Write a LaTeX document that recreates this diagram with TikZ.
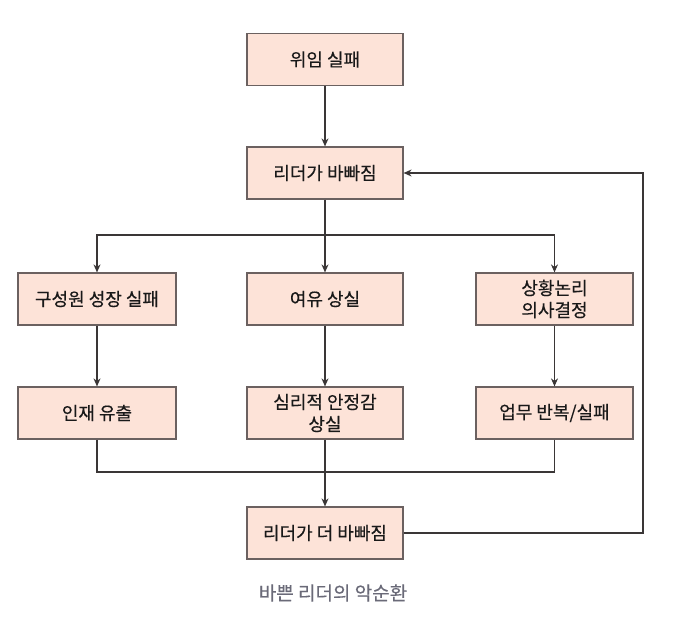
\documentclass[tikz,border=0pt]{standalone}
\usepackage{fontspec}
\setmainfont{Noto Sans CJK KR}[FakeBold=0.4]
\usetikzlibrary{arrows.meta}
\definecolor{boxfill}{HTML}{FDE3D8}
\definecolor{boxline}{HTML}{6B6160}
\definecolor{conn}{HTML}{3A3636}
\definecolor{captc}{HTML}{6A6A78}
\begin{document}
\begin{tikzpicture}[x=1pt,y=-1pt,
  stepbox/.style={draw=boxline, fill=boxfill, line width=1.2pt, minimum width=156pt, minimum height=52pt, inner sep=0pt, align=center, font=\fontsize{18}{22}\selectfont, text=black!90},
  conn/.style={draw=conn, line width=1.1pt},
  arr/.style={conn, -{Stealth[length=8pt,width=7pt]}}]
\useasboundingbox (0,0) rectangle (686,623);
\node[stepbox] (a) at (325,59.5) {위임 실패};
\node[stepbox] (b) at (325,173) {리더가 바빠짐};
\node[stepbox, minimum width=158pt] (c1) at (97,299) {구성원 성장 실패};
\node[stepbox] (c2) at (325,299) {여유 상실};
\node[stepbox, minimum width=157pt] (c3) at (554.5,299) {상황논리\\의사결정};
\node[stepbox, minimum width=158pt] (d1) at (97,413) {인재 유출};
\node[stepbox] (d2) at (325,413) {심리적 안정감\\상실};
\node[stepbox, minimum width=157pt] (d3) at (554.5,413) {업무 반복/실패};
\node[stepbox] (e) at (325,533) {리더가 더 바빠짐};
\node[font=\fontsize{19}{22}\selectfont, text=captc] (cap) at (333,593) {바쁜 리더의 악순환};
\coordinate (split) at (325,235);
\coordinate (merge) at (325,472);
\coordinate (fb) at (643,0);
\draw[arr] (a) -- (b);
\draw[conn] (b) -- (split);
\draw[arr] (split) -- (c2);
\draw[arr] (split) -| (c1);
\draw[arr] (split) -| (c3);
\draw[arr] (c1) -- (d1);
\draw[arr] (c2) -- (d2);
\draw[arr] (c3) -- (d3);
\draw[conn] (d1) |- (merge);
\draw[conn] (d3) |- (merge);
\draw[arr] (d2) -- (e);
\draw[arr] (e.east) -- (e.east -| fb) -- (b.east -| fb) -- (b.east);
\end{tikzpicture}
\end{document}
